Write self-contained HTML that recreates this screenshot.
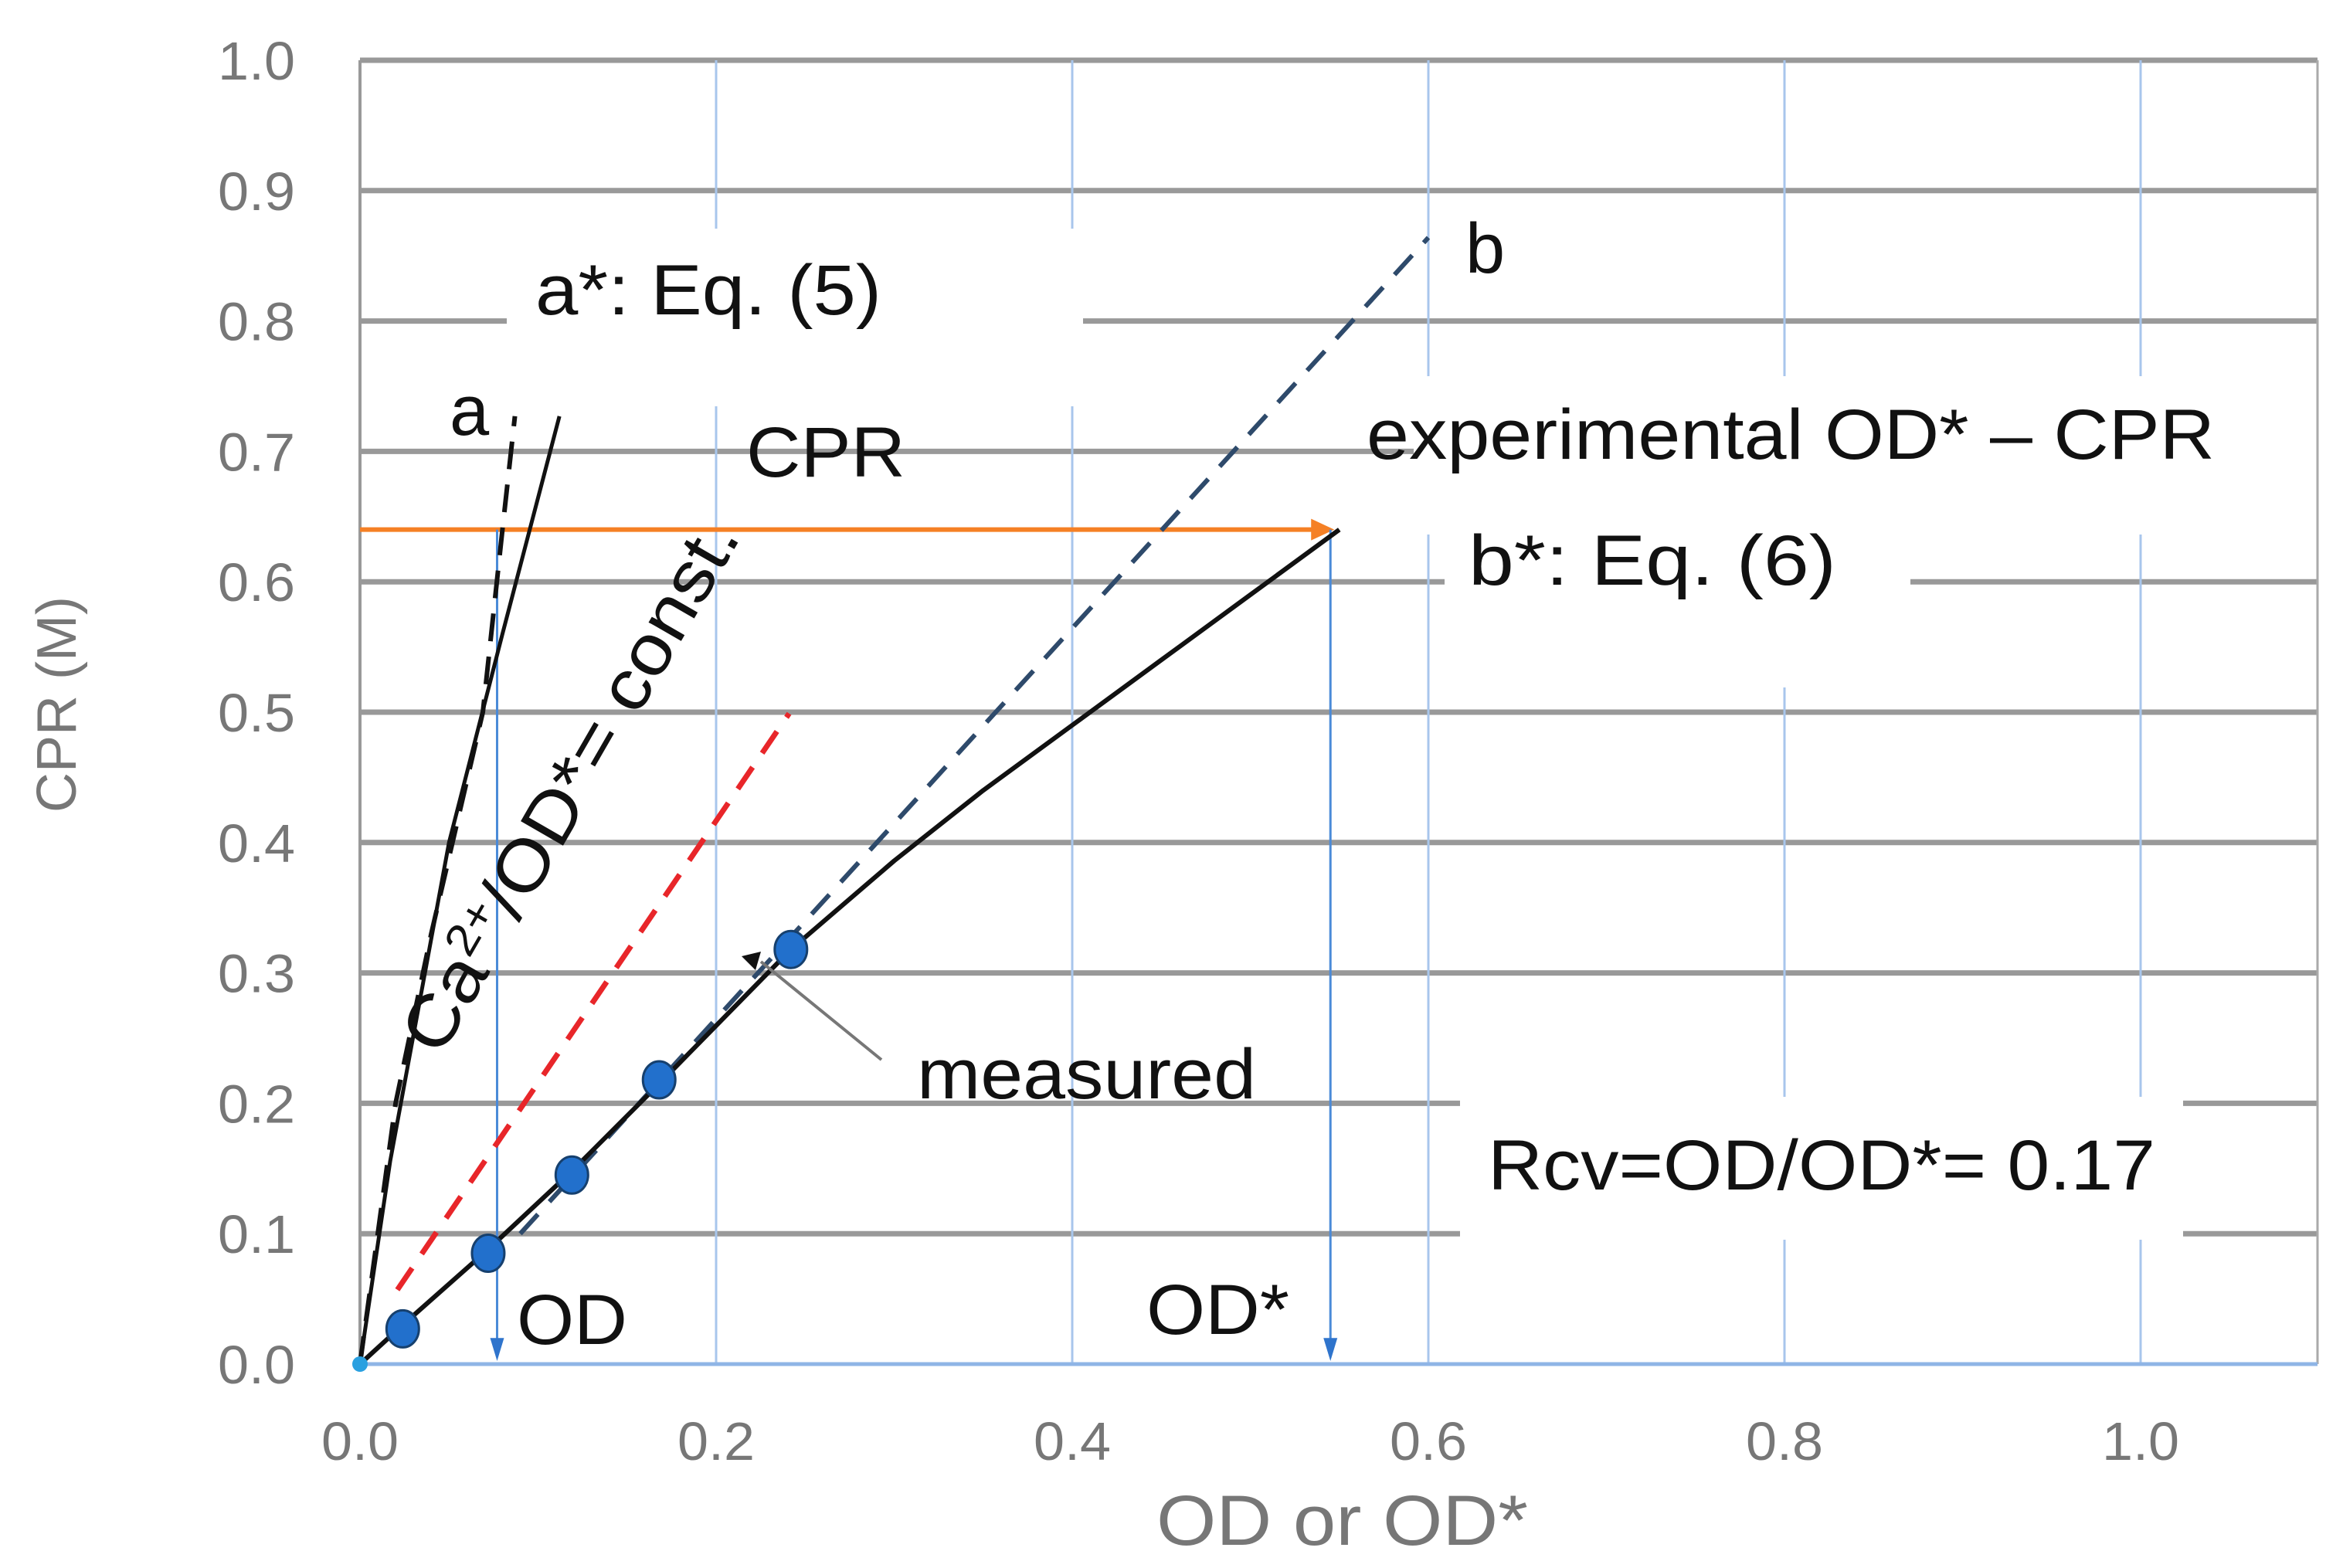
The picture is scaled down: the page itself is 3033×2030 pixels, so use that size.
<!DOCTYPE html>
<html><head><meta charset="utf-8"><style>
html,body{margin:0;padding:0;background:#fff;}
svg{display:block;font-family:"Liberation Sans",sans-serif;}
</style></head><body>
<svg id="chart" width="3033" height="2030" viewBox="0 0 3033 2030" xmlns="http://www.w3.org/2000/svg">
<g id="grid"></g>
<g id="boxes">
  <rect x="656" y="296" width="746" height="230" fill="#fff"/>
  <rect x="1830" y="487" width="1175" height="205" fill="#fff"/>
  <rect x="1870" y="690" width="603" height="200" fill="#fff"/>
  <rect x="1890" y="1420" width="936" height="185" fill="#fff"/>
</g>
<g id="axes"></g>
<g id="series"></g>
<g id="labels" font-size="92" fill="#111">
  <text x="693" y="407" textLength="448" lengthAdjust="spacingAndGlyphs">a*: Eq. (5)</text>
  <text x="1897" y="353">b</text>
  <text x="582" y="563">a</text>
  <text x="966" y="617" textLength="206" lengthAdjust="spacingAndGlyphs">CPR</text>
  <text x="1769" y="594" textLength="1098" lengthAdjust="spacingAndGlyphs">experimental OD* – CPR</text>
  <text x="1901" y="757" textLength="476" lengthAdjust="spacingAndGlyphs">b*:  Eq. (6)</text>
  <text x="1187" y="1422" textLength="439" lengthAdjust="spacingAndGlyphs">measured</text>
  <text x="1926" y="1540" textLength="864" lengthAdjust="spacingAndGlyphs">Rcv=OD/OD*= 0.17</text>
  <text x="669" y="1740" textLength="143" lengthAdjust="spacingAndGlyphs">OD</text>
  <text x="1484" y="1727" textLength="185" lengthAdjust="spacingAndGlyphs">OD*</text>
  <text transform="translate(570,1370) rotate(-60)" textLength="780" lengthAdjust="spacingAndGlyphs">Ca<tspan font-size="58" dy="-32">2+</tspan><tspan dy="32">/OD*= const.</tspan></text>
  <line x1="1141" y1="1372" x2="985" y2="1245" stroke="#777" stroke-width="4"/>
  <polygon points="960,1238 985,1232 978,1256" fill="#111"/>
</g>
<g fill="#777">
  <text x="1497" y="2000" font-size="92" textLength="481" lengthAdjust="spacingAndGlyphs">OD or OD*</text>
  <text transform="translate(98,912) rotate(-90)" text-anchor="middle" font-size="72">CPR (M)</text>
</g>
<g id="ticks" font-size="70" fill="#777"></g>
</svg>
<script>
const NS="http://www.w3.org/2000/svg";
const xTicks=[0,0.2,0.4,0.6,0.8,1.0];
const xTickLabels=["0.0","0.2","0.4","0.6","0.8","1.0"];
const yTicks=[0,0.1,0.2,0.3,0.4,0.5,0.6,0.7,0.8,0.9,1.0];
const yTickLabels=["0.0","0.1","0.2","0.3","0.4","0.5","0.6","0.7","0.8","0.9","1.0"];
const measuredX=[0.024,0.072,0.119,0.168,0.242];
const measuredY=[0.027,0.085,0.145,0.218,0.318];
const bStarX=[0,0.024,0.072,0.119,0.168,0.242,0.3,0.35,0.4,0.45,0.5,0.55];
const bStarY=[0,0.03,0.088,0.148,0.215,0.318,0.386,0.44,0.49,0.54,0.59,0.64];
const aStarX=[0,0.017,0.05,0.08,0.112];
const aStarY=[0,0.156,0.4,0.56,0.727];
const aX=[0,0.02,0.04,0.069,0.08,0.087];
const aY=[0,0.2,0.33,0.5,0.64,0.727];
const redX=[0.021,0.241];
const redY=[0.057,0.499];
const bX=[0.09,0.6];
const bY=[0.1,0.864];
const cprLevel=[0.64];
const odValues=[0.077,0.545];
const X=v=>466+v*2305, Y=v=>1766-v*1688;
function mk(tag,attrs,parent){const e=document.createElementNS(NS,tag);for(const k in attrs)e.setAttribute(k,attrs[k]);parent.appendChild(e);return e;}
const grid=document.getElementById('grid'),axes=document.getElementById('axes'),series=document.getElementById('series'),ticks=document.getElementById('ticks');
yTicks.forEach((t,i)=>{if(t===0)return;
  const l=mk('line',{x1:X(0),x2:3000,y1:Y(t),y2:Y(t),stroke:'#999','stroke-width':7},grid);
  
  });
xTicks.forEach(t=>{if(t===0)return;
  const l=mk('line',{x1:X(t),x2:X(t),y1:Y(1),y2:Y(0),stroke:'#a8c6ec','stroke-width':3},grid);
  
  });
let e=mk('line',{x1:X(0),x2:X(0),y1:Y(1),y2:Y(0),stroke:'#999','stroke-width':4},axes);


e=mk('line',{x1:3000,x2:3000,y1:Y(1),y2:Y(0),stroke:'#aaa','stroke-width':3},axes);


e=mk('line',{x1:X(0),x2:3000,y1:Y(0),y2:Y(0),stroke:'#8fb5e6','stroke-width':5},axes);


yTicks.forEach((t,i)=>{const tx=mk('text',{x:382,y:Y(t)+25,'text-anchor':'end',textLength:100,lengthAdjust:'spacingAndGlyphs'},ticks);tx.textContent=yTickLabels[i];
  
  });
xTicks.forEach((t,i)=>{const tx=mk('text',{x:X(t)-50,y:1890,textLength:100,lengthAdjust:'spacingAndGlyphs'},ticks);tx.textContent=xTickLabels[i];
  
  });
function path(xs,ys,attrs,name){const d=xs.map((x,i)=>(i?'L':'M')+X(x)+','+Y(ys[i])).join(' ');
  const p=mk('path',Object.assign({d:d,fill:'none','stroke-linejoin':'round'},attrs),series);
  
  return p;}
path([0,odValues[1]-0.008],[cprLevel[0],cprLevel[0]],{stroke:'#f58025','stroke-width':6},'cpr-level-arrow');
e=mk('polygon',{points:`${X(odValues[1])+5},${Y(cprLevel[0])} ${X(odValues[1])-25},${Y(cprLevel[0])-14} ${X(odValues[1])-25},${Y(cprLevel[0])+14}`,fill:'#f58025'},series);


odValues.forEach((v,i)=>{
  path([v,v],[cprLevel[0],0.012],{stroke:'#4a8ad8','stroke-width':3},i?'od-star-arrow':'od-arrow');
  const a=mk('polygon',{points:`${X(v)-9},${Y(0.02)} ${X(v)+9},${Y(0.02)} ${X(v)},${Y(0)-4}`,fill:'#2f74cc'},series);
  
  });
path(bX,bY,{stroke:'#2e4a6b','stroke-width':6,'stroke-dasharray':'34 22'},'line-b-dashed');
path(redX,redY,{stroke:'#e8262a','stroke-width':7,'stroke-dasharray':'34 22'},'red-dashed-line');
path(aStarX,aStarY,{stroke:'#111','stroke-width':5},'line-a-star');
path(aX,aY,{stroke:'#111','stroke-width':6,'stroke-dasharray':'36 20'},'line-a-dashed');
path(bStarX,bStarY,{stroke:'#111','stroke-width':6},'line-b-star');
e=mk('circle',{cx:X(0),cy:Y(0),r:10,fill:'#2aa0e0'},series);


measuredX.forEach((x,i)=>{const c=mk('ellipse',{cx:X(x),cy:Y(measuredY[i]),rx:21,ry:24,fill:'#2270cc',stroke:'#16406e','stroke-width':3},series);
  
  });
</script>
</body></html>
